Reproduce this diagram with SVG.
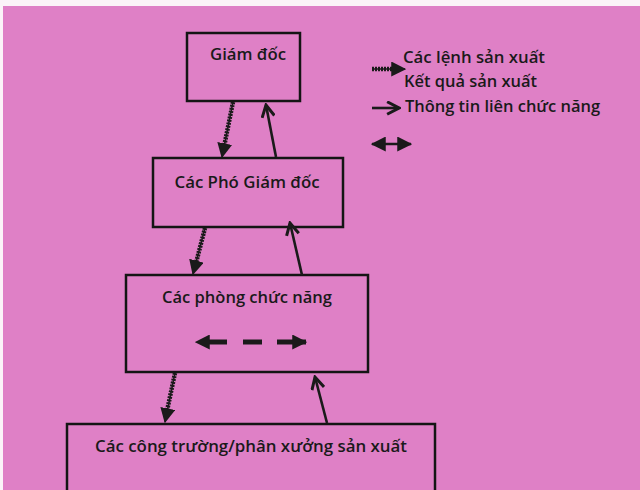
<svg xmlns="http://www.w3.org/2000/svg" width="640" height="490" viewBox="0 0 640 490">
<defs>
<style>
.box{fill:none;stroke:#141414;stroke-width:2.5}
.t{font-family:"Open Sans","Liberation Sans",sans-serif;font-weight:600;font-size:16px;fill:#1a1a1a}
.hat{stroke:#1a1a1a;stroke-width:4.5;stroke-dasharray:2 1;fill:none}
.core{stroke:#1a1a1a;stroke-width:1.5;fill:none}
.sol{stroke:#1a1a1a;stroke-width:2.6;fill:none}
</style>
<marker id="tri" viewBox="0 0 12 12" refX="11" refY="6" markerWidth="15" markerHeight="15" markerUnits="userSpaceOnUse" orient="auto-start-reverse"><path d="M0,0 L12,6 L0,12 z" fill="#1a1a1a"/></marker>
<marker id="chev" viewBox="0 0 12 12" refX="10.5" refY="6" markerWidth="15" markerHeight="15" markerUnits="userSpaceOnUse" orient="auto"><path d="M1,1 L10.5,6 L1,11" fill="none" stroke="#1a1a1a" stroke-width="2.4"/></marker>
</defs>
<rect x="0" y="0" width="640" height="490" fill="#fbf3f8"/>
<rect x="3" y="6" width="637" height="484" fill="#df80c6"/>

<g id="node-giamdoc">
<rect class="box" x="187" y="33" width="113" height="68"/>
<text class="t" x="248" y="60" text-anchor="middle" textLength="76" lengthAdjust="spacingAndGlyphs">Giám đốc</text>
</g>
<g id="node-phogiamdoc">
<rect class="box" x="153" y="158" width="190" height="69"/>
<text class="t" x="247" y="188" text-anchor="middle" textLength="145" lengthAdjust="spacingAndGlyphs">Các Phó Giám đốc</text>
</g>
<g id="node-phong">
<rect class="box" x="126" y="275" width="242" height="97"/>
<text class="t" x="247" y="303" text-anchor="middle" textLength="170" lengthAdjust="spacingAndGlyphs">Các phòng chức năng</text>
</g>
<g id="node-congtruong">
<rect class="box" x="67" y="424" width="368" height="80"/>
<text class="t" x="251" y="452" text-anchor="middle" textLength="312" lengthAdjust="spacingAndGlyphs">Các công trường/phân xưởng sản xuất</text>
</g>

<g id="legend">
<line class="hat" x1="372" y1="69" x2="396" y2="69" stroke-width="5.5"/>
<line class="core" x1="372" y1="69" x2="405" y2="69" marker-end="url(#tri)"/>
<text class="t" x="403" y="63" textLength="142" lengthAdjust="spacingAndGlyphs">Các lệnh sản xuất</text>
<text class="t" x="404" y="87" textLength="133" lengthAdjust="spacingAndGlyphs">Kết quả sản xuất</text>
<line class="sol" x1="372" y1="108" x2="399" y2="108" marker-end="url(#chev)"/>
<text class="t" x="405" y="112" textLength="195" lengthAdjust="spacingAndGlyphs">Thông tin liên chức năng</text>
<line class="sol" x1="372" y1="144" x2="411" y2="144" stroke-width="3.5" marker-start="url(#tri)" marker-end="url(#tri)"/>
</g>

<g id="connectors">
<line class="hat" x1="233" y1="102" x2="224" y2="147"/>
<line class="core" x1="233" y1="102" x2="222" y2="157" marker-end="url(#tri)"/>
<line class="sol" x1="276" y1="157" x2="266" y2="105" marker-end="url(#chev)"/>

<line class="hat" x1="205" y1="228" x2="196" y2="263"/>
<line class="core" x1="205" y1="228" x2="193" y2="274" marker-end="url(#tri)"/>
<line class="sol" x1="302" y1="275" x2="290" y2="223" marker-end="url(#chev)"/>

<line class="hat" x1="175" y1="373" x2="167" y2="411"/>
<line class="core" x1="175" y1="373" x2="165" y2="422" marker-end="url(#tri)"/>
<line class="sol" x1="327" y1="423" x2="315" y2="377" marker-end="url(#chev)"/>

<line x1="196" y1="342" x2="306" y2="342" stroke="#1a1a1a" stroke-width="5" stroke-dasharray="0 7 24 16 19 15 30" marker-start="url(#tri)" marker-end="url(#tri)"/>
</g>
</svg>
